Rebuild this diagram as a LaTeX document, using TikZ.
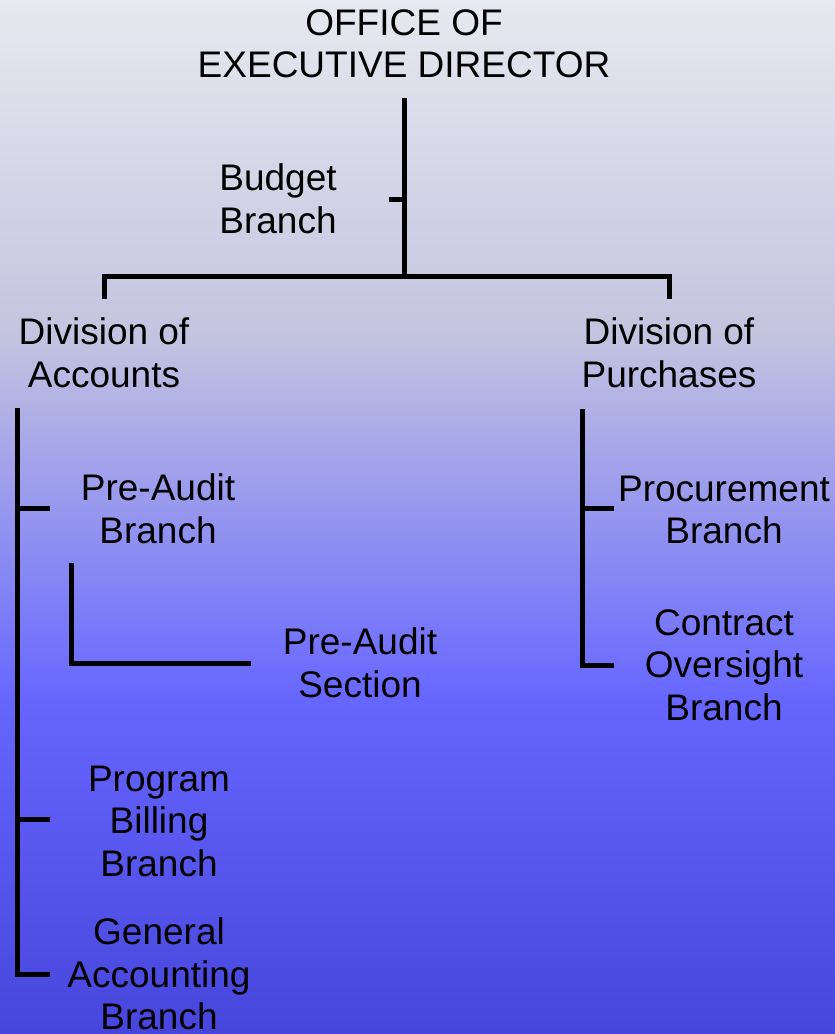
\documentclass[tikz,border=0pt]{standalone}
\usepackage{fontspec}
\setmainfont{Liberation Sans}
\definecolor{bgtop}{RGB}{232,232,240}
\definecolor{bggray}{RGB}{196,196,224}
\definecolor{bgblue}{RGB}{102,102,255}
\definecolor{bgbottom}{RGB}{70,70,220}
\tikzset{
  unit/.style={align=center, inner sep=0pt, font=\fontsize{37}{42.5}\selectfont},
  link/.style={line width=5pt, black},
}
\begin{document}
\begin{tikzpicture}[x=1pt,y=-1pt]
                \useasboundingbox (0,0) rectangle (835,1034);
                \shade[top color=bgtop, bottom color=bggray] (0,0) rectangle (835,334);
                \shade[top color=bggray, bottom color=bgblue] (0,334) rectangle (835,700);
                \shade[top color=bgblue, bottom color=bgbottom] (0,700) rectangle (835,1034);

                \node[unit] (office) at (404,44) {OFFICE OF\\EXECUTIVE DIRECTOR};
                \node[unit] (budget) at (278,199) {Budget\\Branch};
                \node[unit] (accounts) at (104,353) {Division of\\Accounts};
                \node[unit] (purchases) at (669,353) {Division of\\Purchases};
                \node[unit] (preaudit) at (158,509) {Pre-Audit\\Branch};
                \node[unit] (section) at (360,663) {Pre-Audit\\Section};
                \node[unit] (billing) at (159,821) {Program\\Billing\\Branch};
                \node[unit] (general) at (159,974) {General\\Accounting\\Branch};
                \node[unit] (procure) at (724,510) {Procurement\\Branch};
                \node[unit] (contract) at (724,665) {Contract\\Oversight\\Branch};

                \coordinate (trunk) at (404,98);
                \coordinate (split) at (404,276);
                \coordinate (budgettick) at (389,199);
                \coordinate (acctop) at (104,299);
                \coordinate (purtop) at (669,299);
                \coordinate (acctrunk) at (17,408);
                \coordinate (pretick) at (50,508);
                \coordinate (billtick) at (50,819);
                \coordinate (gentick) at (50,974);
                \coordinate (sectop) at (71,563);
                \coordinate (secend) at (251,663);
                \coordinate (purtrunk) at (582,409);
                \coordinate (protick) at (614,508);
                \coordinate (contick) at (614,665);

                \draw[link] (trunk) -- (split);
                \draw[link] (budgettick) -- (budgettick -| split);
                \draw[link] (acctop) |- (split) -| (purtop);
                \draw[link] (acctrunk) |- (gentick);
                \draw[link] (pretick -| acctrunk) -- (pretick);
                \draw[link] (billtick -| acctrunk) -- (billtick);
                \draw[link] (sectop) |- (secend);
                \draw[link] (purtrunk) |- (contick);
                \draw[link] (protick -| purtrunk) -- (protick);
            \end{tikzpicture}
\end{document}
